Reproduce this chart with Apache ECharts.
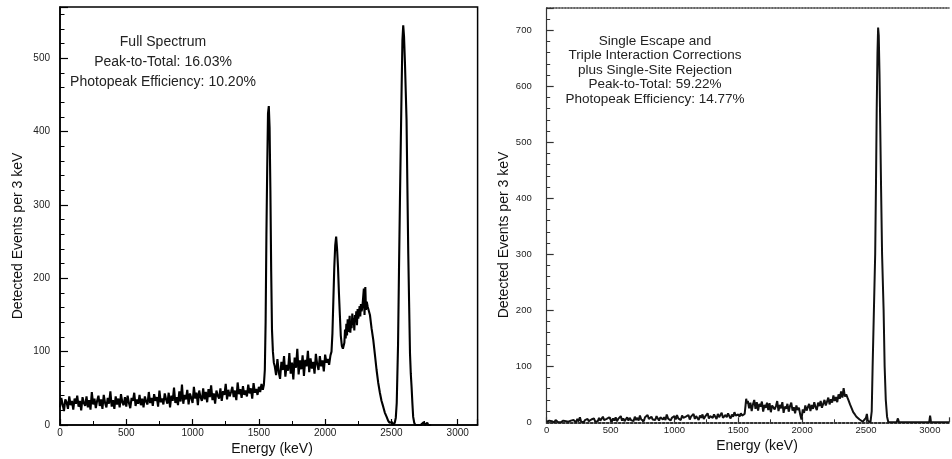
<!DOCTYPE html>
<html><head><meta charset="utf-8">
<script src="https://cdn.jsdelivr.net/npm/echarts@6/dist/echarts.min.js"></script>
<style>html,body{margin:0;padding:0;background:#fff}#c{width:952px;height:459px}</style>
</head><body><div id="c"></div>
<script>
// ---------- Left panel: Full Spectrum (counts per 3 keV) ----------
const leftLowStart = 0, leftLowStep = 10;
const leftLow = [
 24,37,28,19,35,31,22,39,27,33,
 21,36,29,40,25,33,20,38,30,26,
 39,24,34,21,45,28,36,23,33,40,
 26,35,22,41,30,24,37,29,46,25,
 34,22,39,28,36,24,42,31,27,38,
 25,40,30,23,37,33,44,26,35,29,
 41,27,36,24,39,32,28,45,30,37,
 26,42,33,38,25,47,31,36,28,43,
 35,29,44,24,40,33,51,30,38,27,
 46,32,55,29,41,35,48,28,43,37,
 30,52,36,44,27,47,38,33,50,35,
 45,31,49,38,54,34,43,29,47,40,
 36,50,33,46,41,56,35,48,39,45,
 52,38,47,34,58,42,49,37,53,41,
 47,39,55,43,50,36,57,44,49,41,
 52,45,56,48
];
const leftPeak1 = [[1538,55],[1545,75],[1551,140],[1557,260],[1563,350],[1569,425],[1575,435],[1581,405],[1587,320],[1593,210],[1599,130],[1606,100],[1613,85]];
const leftMidStart = 1620, leftMidStep = 10;
const leftMid = [
 80,68,90,72,63,86,75,94,66,82,
 74,98,70,85,62,92,78,104,69,88,
 76,95,67,89,80,101,72,91,77,86,
 70,97,83,75,94,80,88,73,96,85,
 90,82,95
];
const leftPeak2 = [[2048,100],[2055,125],[2062,170],[2069,215],[2076,245],[2083,257],[2090,240],[2097,215],[2104,180],[2111,150],[2118,122],[2126,108],[2134,104]];
const leftHumpStart = 2145, leftHumpStep = 5;
const leftHump = [112,130,118,138,122,144,127,135,149,126,141,132,152,137,146,129,150,141,155,136,158,145,152,162,148,165,155,160,170];
const leftSpikes = [[2292,186],[2297,150],[2303,188],[2308,157],[2314,168],[2320,162],[2326,160]];
const leftTail = [[2338,150],[2350,132],[2363,116],[2376,95],[2388,75],[2400,58],[2413,44],[2425,33],[2438,25],[2450,17],[2464,11],[2475,6],[2485,3],[2495,1],[2505,4],[2515,0],[2525,3],[2533,10]];
const leftPhoto = [[2540,30],[2550,110],[2557,210],[2564,303],[2571,390],[2577,461],[2583,525],[2589,545],[2595,530],[2602,494],[2608,455],[2614,416],[2620,330],[2627,234],[2634,160],[2640,98],[2646,70],[2652,52],[2658,30],[2664,11],[2672,3],[2680,0]];
const leftAfter = [[2720,0],[2745,4],[2752,0],[2770,3],[2778,0],[2800,0]];

// ---------- Right panel: corrected spectrum ----------
const rightLowStart = 0, rightLowStep = 10;
const rightLow = [
 1,0,3,0,2,1,0,4,1,0,
 2,0,1,3,0,2,5,1,0,3,
 1,4,2,0,6,2,9,1,3,0,
 4,1,6,2,0,5,3,7,1,4,
 2,8,3,1,10,4,2,6,3,9,
 5,1,7,3,9,2,6,4,11,3,
 7,2,5,9,3,8,4,6,2,10,
 4,8,3,12,5,7,2,9,6,13,
 6,3,10,5,8,4,11,7,3,9,
 12,5,9,4,14,7,10,3,8,6,
 11,5,13,7,9,4,12,8,6,10,
 7,13,5,10,8,15,6,11,9,4,
 12,8,14,6,10,9,16,7,11,13,
 8,14,10,6,15,9,12,17,8,11,
 13,9,16,11,7,14,10,18,12,9,
 14,10,16,12,9,15
];
const rightRise = [[1556,28],[1562,42],[1568,34]];
const rightMidStart = 1575, rightMidStep = 10;
const rightMid = [
 38,25,35,20,32,40,24,36,21,33,
 28,37,19,31,26,35,22,34,18,30,
 33,23,29,38,20,31,25,36,17,28,
 24,33,19,29,35,21,27,16,30,22,
 26,14,5,23,17,30,21,27,33,20,
 31,24,36,27,22,35,29,38,26,33,
 40,30,37,44,32,41,35,48,38,45,
 36,50,42,55,44,61,46,50
];
const rightTail = [[2355,44],[2362,40],[2375,32],[2388,25],[2400,18],[2413,14],[2425,10],[2438,7],[2450,5],[2462,3],[2475,1],[2490,2],[2500,8],[2507,15],[2514,3],[2525,1],[2535,0]];
const rightPhoto = [[2545,20],[2552,100],[2562,200],[2572,300],[2578,420],[2584,560],[2590,660],[2595,705],[2600,690],[2606,620],[2612,520],[2618,420],[2626,300],[2638,200],[2646,100],[2655,40],[2665,10],[2675,0]];
const rightAfter = [[2740,0],[2750,7],[2758,0],[2995,0],[3002,12],[3009,0],[3150,0]];

const xTicks = [0,500,1000,1500,2000,2500,3000];
const leftText = ['Full Spectrum','Peak-to-Total: 16.03%','Photopeak Efficiency: 10.20%'];
const rightText = ['Single Escape and','Triple Interaction Corrections','plus Single-Site Rejection','Peak-to-Total: 59.22%','Photopeak Efficiency: 14.77%'];

function seq(start, step, vals){ return vals.map((v,i)=>[start+step*i, v]); }
const leftData = [].concat(seq(leftLowStart,leftLowStep,leftLow), leftPeak1, seq(leftMidStart,leftMidStep,leftMid),
  leftPeak2, seq(leftHumpStart,leftHumpStep,leftHump), leftSpikes, leftTail, leftPhoto, leftAfter);
const rightData = [].concat(seq(rightLowStart,rightLowStep,rightLow), rightRise, seq(rightMidStart,rightMidStep,rightMid),
  rightTail, rightPhoto, rightAfter);

const FONT = "'Liberation Sans', Arial, sans-serif";
const fmtX = v => xTicks.indexOf(v) >= 0 ? String(v) : '';
const fmtY = v => (v % 100 === 0) ? String(v) : '';

function xMain(g, color, lineType, lw, tickLen, fs){
  return {type:'value', gridIndex:g, min:0, max:3150, interval:500, position:'bottom',
    axisLine:{show:true, onZero:false, lineStyle:{color:color, width:lw, type:lineType}},
    axisTick:{show:true, inside:true, length:tickLen, lineStyle:{color:color, width:1.2}},
    axisLabel:{show:true, formatter:fmtX, fontFamily:FONT, fontSize:fs, color:'#222', margin:3},
    splitLine:{show:false}};
}
function xMinor(g, color, tickLen){
  return {type:'value', gridIndex:g, min:0, max:3150, interval:250, position:'bottom',
    axisLine:{show:false, onZero:false}, axisTick:{show:true, inside:true, length:tickLen, lineStyle:{color:color, width:1}},
    axisLabel:{show:false}, splitLine:{show:false}};
}
function yMain(g, max, color, lw, tickLen, fs, margin){
  return {type:'value', gridIndex:g, min:0, max:max, interval:100, position:'left',
    axisLine:{show:true, onZero:false, lineStyle:{color:color, width:lw}},
    axisTick:{show:true, inside:true, length:tickLen, lineStyle:{color:color, width:1.2}},
    axisLabel:{show:true, formatter:fmtY, fontFamily:FONT, fontSize:fs, color:'#222', margin:margin},
    splitLine:{show:false}};
}
function yMinor(g, max, color, tickLen){
  return {type:'value', gridIndex:g, min:0, max:max, interval:20, position:'left',
    axisLine:{show:false, onZero:false}, axisTick:{show:true, inside:true, length:tickLen, lineStyle:{color:color, width:1}},
    axisLabel:{show:false}, splitLine:{show:false}};
}

const graphics = [];
leftText.forEach((t,i)=>graphics.push({type:'text', x:163, y:42+20*i,
  style:{text:t, font:'14px '+FONT, fill:'#222', textAlign:'center', textVerticalAlign:'middle'}}));
rightText.forEach((t,i)=>graphics.push({type:'text', x:655, y:41+14.5*i,
  style:{text:t, font:'13.5px '+FONT, fill:'#222', textAlign:'center', textVerticalAlign:'middle'}}));
graphics.push({type:'text', x:18.5, y:236, rotation:Math.PI/2,
  style:{text:'Detected Events per 3 keV', font:'14px '+FONT, fill:'#111', textAlign:'center', textVerticalAlign:'middle'}});
graphics.push({type:'text', x:504, y:235, rotation:Math.PI/2,
  style:{text:'Detected Events per 3 keV', font:'14px '+FONT, fill:'#111', textAlign:'center', textVerticalAlign:'middle'}});
graphics.push({type:'text', x:272, y:449,
  style:{text:'Energy (keV)', font:'14px '+FONT, fill:'#111', textAlign:'center', textVerticalAlign:'middle'}});
graphics.push({type:'text', x:757, y:446,
  style:{text:'Energy (keV)', font:'14px '+FONT, fill:'#111', textAlign:'center', textVerticalAlign:'middle'}});

const chart = echarts.init(document.getElementById('c'), null, {renderer:'canvas'});
chart.setOption({
  animation:false,
  backgroundColor:'#fff',
  grid:[
    {left:60, top:7, width:417.6, height:418, show:true, borderColor:'#000', borderWidth:1.5, backgroundColor:'transparent'},
    {left:546.7, top:7.9, width:413, height:414.4, show:false}
  ],
  xAxis:[
    xMain(0,'#000','solid',1.5,6,10),
    xMinor(0,'#000',4),
    xMain(1,'#333','dotted',2,5,9.5),
    xMinor(1,'#333',3),
    {type:'value', gridIndex:1, min:0, max:3150, position:'top',
      axisLine:{show:true, onZero:false, lineStyle:{color:'#333', width:1.5, type:'dotted'}},
      axisTick:{show:false}, axisLabel:{show:false}, splitLine:{show:false}}
  ],
  yAxis:[
    yMain(0,570,'#000',1.5,8,10,10),
    yMinor(0,570,'#000',4.5),
    yMain(1,740,'#333',1.2,7,9.5,15),
    yMinor(1,740,'#333',3.5)
  ],
  series:[
    {type:'line', xAxisIndex:0, yAxisIndex:0, data:leftData, showSymbol:false, symbol:'none',
      lineStyle:{color:'#000', width:2.1}, z:3},
    {type:'line', xAxisIndex:2, yAxisIndex:2, data:rightData, showSymbol:false, symbol:'none',
      lineStyle:{color:'#111', width:2.0}, z:3}
  ],
  graphic:graphics
});
</script></body></html>
